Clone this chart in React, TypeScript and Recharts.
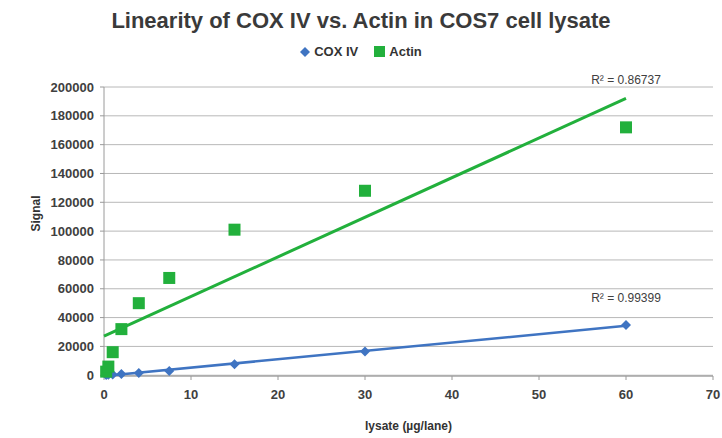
import {
  CartesianGrid,
  ReferenceDot,
  Scatter,
  ScatterChart,
  XAxis,
  YAxis,
} from "recharts";

const lysate = [0.25, 0.5, 1, 2, 4, 7.5, 15, 30, 60];
const coxIV = [150, 300, 500, 800, 1500, 3000, 7600, 16400, 34800];
const actin = [2500, 6000, 16000, 32000, 50000, 67500, 101000, 128000, 172000];
const xTicks = [0, 10, 20, 30, 40, 50, 60, 70];
const yTicks = [0, 20000, 40000, 60000, 80000, 100000, 120000, 140000, 160000, 180000, 200000];
const r2Labels = { cox: "R\u00b2 = 0.99399", actin: "R\u00b2 = 0.86737" };

const font = "'Liberation Sans', Arial, sans-serif";
const blue = "#3f74c2";
const green = "#22b03c";

const coxData = lysate.map((x, i) => ({ x, y: coxIV[i] }));
const actinData = lysate.map((x, i) => ({ x, y: actin[i] }));

// least-squares trendline, drawn from 0 to the last x like Excel does
function fit(pts: { x: number; y: number }[]) {
  const n = pts.length;
  const mx = pts.reduce((s, p) => s + p.x, 0) / n;
  const my = pts.reduce((s, p) => s + p.y, 0) / n;
  let sxy = 0;
  let sxx = 0;
  pts.forEach((p) => {
    sxy += (p.x - mx) * (p.y - my);
    sxx += (p.x - mx) * (p.x - mx);
  });
  const m = sxy / sxx;
  const b = my - m * mx;
  const xEnd = pts[n - 1].x;
  return [
    { x: 0, y: b },
    { x: xEnd, y: b + m * xEnd },
  ];
}

const coxFit = fit(coxData);
const actinFit = fit(actinData);

const Diamond = (props: any) => {
  const { cx, cy } = props;
  const s = 5;
  return (
    <polygon
      points={`${cx},${cy - s} ${cx + s},${cy} ${cx},${cy + s} ${cx - s},${cy}`}
      fill={blue}
    />
  );
};

const Square = (props: any) => {
  const { cx, cy } = props;
  return <rect x={cx - 6} y={cy - 6} width={12} height={12} fill={green} />;
};

const Nothing = () => <g />;

const tickStyle = { fill: "#404040", fontSize: 13, fontWeight: "bold", fontFamily: font };

export default function App() {
  return (
    <div
      style={{
        position: "absolute",
        left: 0,
        top: 0,
        width: 722,
        height: 438,
        background: "#fff",
        fontFamily: font,
      }}
    >
      <div
        style={{
          position: "absolute",
          top: 8,
          width: 722,
          textAlign: "center",
          fontSize: 22,
          fontWeight: "bold",
          color: "#3a3a3a",
        }}
      >
        Linearity of COX IV vs. Actin in COS7 cell lysate
      </div>
      <div
        style={{
          position: "absolute",
          top: 44,
          width: 722,
          display: "flex",
          justifyContent: "center",
          alignItems: "center",
          fontSize: 13,
          color: "#333",
          fontWeight: "bold",
        }}
      >
        <svg width={10} height={10} style={{ marginRight: 4 }}>
          <polygon points="5,0 10,5 5,10 0,5" fill={blue} />
        </svg>
        <span style={{ marginRight: 16 }}>COX IV</span>
        <svg width={11} height={11} style={{ marginRight: 4 }}>
          <rect width={11} height={11} fill={green} />
        </svg>
        <span>Actin</span>
      </div>
      <ScatterChart
        width={722}
        height={438}
        margin={{ top: 87, right: 9, bottom: 0, left: 44 }}
        style={{ position: "absolute", left: 0, top: 0 }}
      >
        <CartesianGrid vertical={false} stroke="#b8b8b8" />
        <XAxis
          type="number"
          dataKey="x"
          domain={[0, 70]}
          ticks={xTicks}
          interval={0}
          height={62}
          stroke="#9a9a9a"
          tickSize={4}
          tick={tickStyle}
          tickMargin={10}
          label={{
            value: "lysate (\u00b5g/lane)",
            position: "insideBottom",
            offset: 8,
            fill: "#333",
            fontSize: 12,
            fontWeight: "bold",
            fontFamily: font,
          }}
        />
        <YAxis
          type="number"
          dataKey="y"
          domain={[0, 200000]}
          ticks={yTicks}
          interval={0}
          width={60}
          stroke="#9a9a9a"
          tickSize={4}
          tick={tickStyle}
          tickMargin={6}
          label={{
            value: "Signal",
            angle: -90,
            position: "insideLeft",
            offset: -8,
            fill: "#333",
            fontSize: 12,
            fontWeight: "bold",
            fontFamily: font,
          }}
        />
        <Scatter
          name="actin fit"
          data={actinFit}
          line={{ stroke: green, strokeWidth: 3 }}
          shape={Nothing}
          legendType="none"
          isAnimationActive={false}
        />
        <Scatter
          name="cox fit"
          data={coxFit}
          line={{ stroke: blue, strokeWidth: 2.5 }}
          shape={Nothing}
          legendType="none"
          isAnimationActive={false}
        />
        <Scatter name="COX IV" data={coxData} shape={Diamond} isAnimationActive={false} />
        <Scatter name="Actin" data={actinData} shape={Square} isAnimationActive={false} />
        <ReferenceDot
          x={actinFit[1].x}
          y={actinFit[1].y}
          r={0}
          stroke="none"
          label={{
            value: r2Labels.actin,
            position: "top",
            offset: 14,
            fill: "#404040",
            fontSize: 12,
            fontFamily: font,
          }}
        />
        <ReferenceDot
          x={coxFit[1].x}
          y={coxFit[1].y}
          r={0}
          stroke="none"
          label={{
            value: r2Labels.cox,
            position: "top",
            offset: 24,
            fill: "#404040",
            fontSize: 12,
            fontFamily: font,
          }}
        />
      </ScatterChart>
    </div>
  );
}
